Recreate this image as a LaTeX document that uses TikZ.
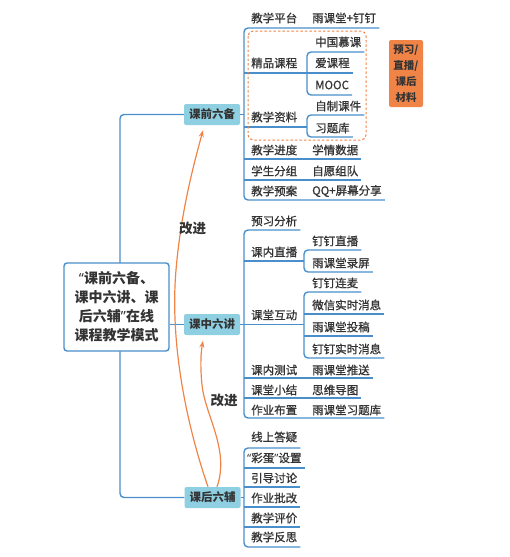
\documentclass[tikz,border=0pt]{standalone}
\usepackage{fontspec}
\setmainfont{Noto Sans CJK SC}
\newfontfamily\medf[FakeBold=0.9]{Noto Sans CJK SC}
\newfontfamily\qf{Noto Sans}
\usetikzlibrary{calc,arrows.meta}
\definecolor{ln}{HTML}{4A8FCB}
\definecolor{bx}{HTML}{8FCFE2}
\definecolor{org}{HTML}{F08447}
\definecolor{txt}{HTML}{333333}
\begin{document}
\begin{tikzpicture}[x=1pt,y=-1pt,
  br/.style={ln, line width=1.4pt, rounded corners=4pt},
  lab/.style={anchor=west, inner sep=0pt, text=txt, font=\medf\fontsize{11.5}{12}\selectfont},
  lone/.style={fill=bx, rounded corners=2pt, minimum width=56pt, minimum height=21pt, inner sep=0pt, text=txt, font=\fontsize{11.5}{12}\selectfont\bfseries},
  imp/.style={org, line width=1.2pt, -{Stealth[length=7pt,width=5pt]}},
  gaijin/.style={text=txt, inner sep=0pt, font=\fontsize{13.5}{14}\selectfont\bfseries},
]
\useasboundingbox (0,0) rectangle (510,557);

% level-1 boxes
\node[lone] (kq) at (212,114.5) {课前六备};
\node[lone] (kz) at (212,324.5) {课中六讲};
\node[lone] (kh) at (212.5,497.5) {课后六辅};

% root connectors
\draw[br] (kq.west) -- (120,114.5) -- (120,497.5) -- (kh.west);
\node[draw=ln, line width=1.4pt, fill=white, rounded corners=3pt, minimum width=105pt, minimum height=88pt, inner sep=0pt, align=center, text=txt, font=\fontsize{14}{19}\selectfont\bfseries] (root) at (116.5,307) {{\qf\bfseries “}课前六备、\\课中六讲、课\\后六辅{\qf\bfseries ”}在线\\课程教学模式};
\draw[br] (root.east |- kz.west) -- (kz.west);

% ---------- group 1 ----------
\node[lab] (jxpt) at (251,18) {教学平台};
\node[lab] (ykdd) at (312,18) {雨课堂+钉钉};
\node[lab] (jpkc) at (251,63) {精品课程};
\node[lab] (zgmk) at (315,42) {中国慕课};
\node[lab] (akc) at (315,63) {爱课程};
\node[lab] (mooc) at (315,85) {MOOC};
\node[lab] (jxzl) at (251,117) {教学资料};
\node[lab] (zzkj) at (315,106) {自制课件};
\node[lab] (xtk) at (315,128) {习题库};
\node[lab] (jxjd) at (251,150) {教学进度};
\node[lab] (xqsj) at (312,150) {学情数据};
\node[lab] (xsfz) at (251,171) {学生分组};
\node[lab] (zyzd) at (312,171) {自愿组队};
\node[lab] (jxya) at (251,191) {教学预案};
\node[lab] (qqpm) at (312,191) {QQ+屏幕分享};

\draw[br] (kq.east) -- (244,114.5);
\draw[br] ([xshift=3pt]ykdd.east |- 0,28) -- (244,28) -- (244,200) -- ([xshift=3pt]qqpm.east |- 0,200);
\draw[br] (244,73) -- ([xshift=3pt]akc.east |- 0,73);
\draw[br] ([xshift=3pt]zgmk.east |- 0,52) -- (307,52) -- (307,95) -- ([xshift=3pt]mooc.east |- 0,95);
\draw[br] (244,127) -- (307,127);
\draw[br] ([xshift=3pt]zzkj.east |- 0,115) -- (307,115) -- (307,137) -- ([xshift=3pt]xtk.east |- 0,137);
\draw[br] (244,159) -- ([xshift=3pt]xqsj.east |- 0,159);
\draw[br] (244,180) -- ([xshift=3pt]zyzd.east |- 0,180);

\draw[org, line width=1pt, rounded corners=5pt, dash pattern=on 2.5pt off 2pt] (248,31) rectangle (366,140);
\node[fill=org, rounded corners=2pt, minimum width=34pt, minimum height=67pt, inner sep=0pt, align=center, font=\fontsize{10.5}{16}\selectfont\bfseries, text=txt] (ylzb) at (406,73.5) {预习/\\直播/\\课后\\材料};

% ---------- group 2 ----------
\node[lab] (yxfx) at (251,221) {预习分析};
\node[lab] (knzb) at (251,252) {课内直播};
\node[lab] (ddzb) at (312,241) {钉钉直播};
\node[lab] (ykdlp) at (312,263) {雨课堂录屏};
\node[lab] (kthd) at (251,315) {课堂互动};
\node[lab] (ddlm) at (312,283) {钉钉连麦};
\node[lab] (wxss) at (312,305) {微信实时消息};
\node[lab] (ykdtg) at (312,327) {雨课堂投稿};
\node[lab] (ddss) at (312,349) {钉钉实时消息};
\node[lab] (knce) at (251,370) {课内测试};
\node[lab] (ykdts) at (312,370) {雨课堂推送};
\node[lab] (ktxj) at (251,390) {课堂小结};
\node[lab] (swdt) at (312,390) {思维导图};
\node[lab] (zybz) at (251,410) {作业布置};
\node[lab] (ykdxt) at (312,410) {雨课堂习题库};

\draw[br] (kz.east) -- (244,324.5);
\draw[br] ([xshift=3pt]yxfx.east |- 0,230) -- (244,230) -- (244,418) -- ([xshift=3pt]ykdxt.east |- 0,418);
\draw[br] (244,261) -- (304,261);
\draw[br] ([xshift=3pt]ddzb.east |- 0,250) -- (304,250) -- (304,272) -- ([xshift=3pt]ykdlp.east |- 0,272);
\draw[br] (244,324.5) -- (304,324.5);
\draw[br] ([xshift=3pt]ddlm.east |- 0,292) -- (304,292) -- (304,358) -- ([xshift=3pt]ddss.east |- 0,358);
\draw[br] (304,314) -- ([xshift=3pt]wxss.east |- 0,314);
\draw[br] (304,336) -- ([xshift=3pt]ykdtg.east |- 0,336);
\draw[br] (244,378) -- ([xshift=3pt]ykdts.east |- 0,378);
\draw[br] (244,398) -- ([xshift=3pt]swdt.east |- 0,398);

% ---------- group 3 ----------
\node[lab] (xsdy) at (251,437) {线上答疑};
\node[lab] (cdsz) at (247,458) {{\qf “}彩蛋{\qf ”}设置};
\node[lab] (ydtl) at (251,478) {引导讨论};
\node[lab] (zypg) at (251,498) {作业批改};
\node[lab] (jxpj) at (251,518) {教学评价};
\node[lab] (jxfs) at (251,537) {教学反思};

\draw[br] (kh.east) -- (244,497.5);
\draw[br] ([xshift=3pt]xsdy.east |- 0,448) -- (244,448) -- (244,547) -- ([xshift=3pt]jxfs.east |- 0,547);
\draw[br] (244,468) -- ([xshift=3pt]cdsz.east |- 0,468);
\draw[br] (244,487) -- ([xshift=3pt]ydtl.east |- 0,487);
\draw[br] (244,507) -- ([xshift=3pt]zypg.east |- 0,507);
\draw[br] (244,527) -- ([xshift=3pt]jxpj.east |- 0,527);

% ---------- improvement arrows ----------
\draw[imp] ([xshift=-4.5pt]kh.north) .. controls (185,420) and (170,340) .. (176,270)
  .. controls (181,210) and (195,160) .. ([xshift=-9pt,yshift=-5pt]kq.south);
\draw[imp] ([xshift=4.5pt]kh.north) .. controls (230,450) and (205,415) .. (202,385)
  .. controls (200,365) and (201,352) .. ([xshift=-9pt,yshift=-5.5pt]kz.south);
\node[gaijin] (gj1) at (192.5,228) {改进};
\node[gaijin] (gj2) at (224,400) {改进};
\end{tikzpicture}
\end{document}
